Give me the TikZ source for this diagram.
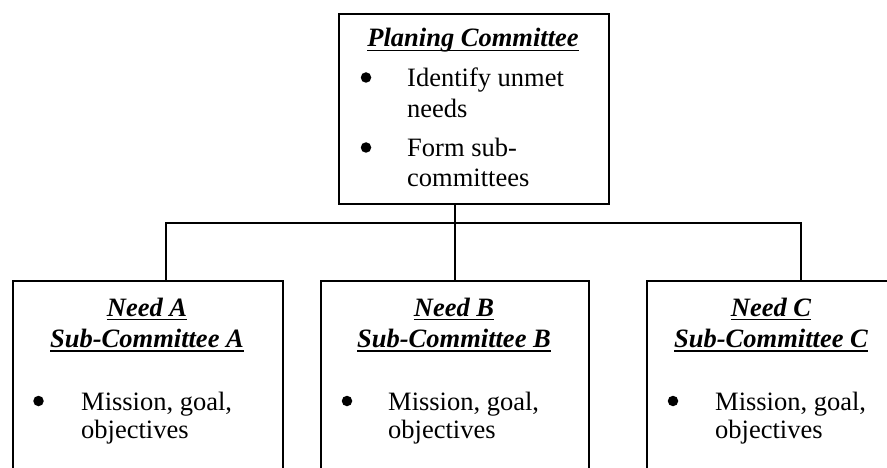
\documentclass[tikz,border=0pt]{standalone}
\usepackage{fontspec}
\setmainfont{Liberation Serif}
\newcommand\myul[1]{\setbox0\hbox{#1}\rlap{\rule[-4.5pt]{\wd0}{1.7pt}}\box0}
\begin{document}
\begin{tikzpicture}[x=1pt,y=-1pt,
  box/.style={draw, line width=1.8pt, anchor=north west, inner sep=0, minimum height=220pt},
  txt/.style={inner sep=0, anchor=base west, font=\fontsize{26.5}{30}\selectfont},
  ttl/.style={inner sep=0, anchor=base, font=\fontsize{26.5}{30}\selectfont\bfseries\itshape},
  dot/.style={circle, fill, inner sep=0, minimum size=10.5pt},
  conn/.style={line width=1.6pt}]
\useasboundingbox (0,0) rectangle (887,468);
\clip (0,0) rectangle (887,468);
% boxes
\node[box, minimum width=270pt, minimum height=190pt] (top) at (338,13) {};
\node[box, minimum width=270pt] (A) at (12,280) {};
\node[box, minimum width=268pt] (B) at (320,280) {};
\node[box, minimum width=260pt] (C) at (646,280) {};
% connectors
\coordinate (jt) at (455,223);
\coordinate (ja) at (166,223);
\coordinate (jc) at (801,223);
\draw[conn] (jt |- top.south) -- (jt |- B.north);
\draw[conn] (ja |- A.north) -- (ja) -- (jc) -- (jc |- C.north);
% top box text
\node[ttl] (pt) at (473,47) {\myul{Planing Committee}};
\node[dot] (pb1) at (366,77.5) {};
\node[txt] (p1a) at (407,87) {Identify unmet};
\node[txt] (p1b) at (407,118) {needs};
\node[dot] (pb2) at (366,147.5) {};
\node[txt] (p2a) at (407,157) {Form sub-};
\node[txt] (p2b) at (407,186) {committees};
% box A
\node[ttl] (at1) at (147,316) {\myul{Need A}};
\node[ttl] (at2) at (147,347) {\myul{Sub-Committee A}};
\node[dot] (ab) at (38.5,401) {};
\node[txt] (a1) at (81,410) {Mission, goal,};
\node[txt] (a2) at (81,438) {objectives};
% box B
\node[ttl] (bt1) at (454,316) {\myul{Need B}};
\node[ttl] (bt2) at (454,347) {\myul{Sub-Committee B}};
\node[dot] (bb) at (347,401) {};
\node[txt] (b1) at (388,410) {Mission, goal,};
\node[txt] (b2) at (388,438) {objectives};
% box C
\node[ttl] (ct1) at (771,316) {\myul{Need C}};
\node[ttl] (ct2) at (771,347) {\myul{Sub-Committee C}};
\node[dot] (cb) at (673,401) {};
\node[txt] (c1) at (715,410) {Mission, goal,};
\node[txt] (c2) at (715,438) {objectives};
\end{tikzpicture}
\end{document}
